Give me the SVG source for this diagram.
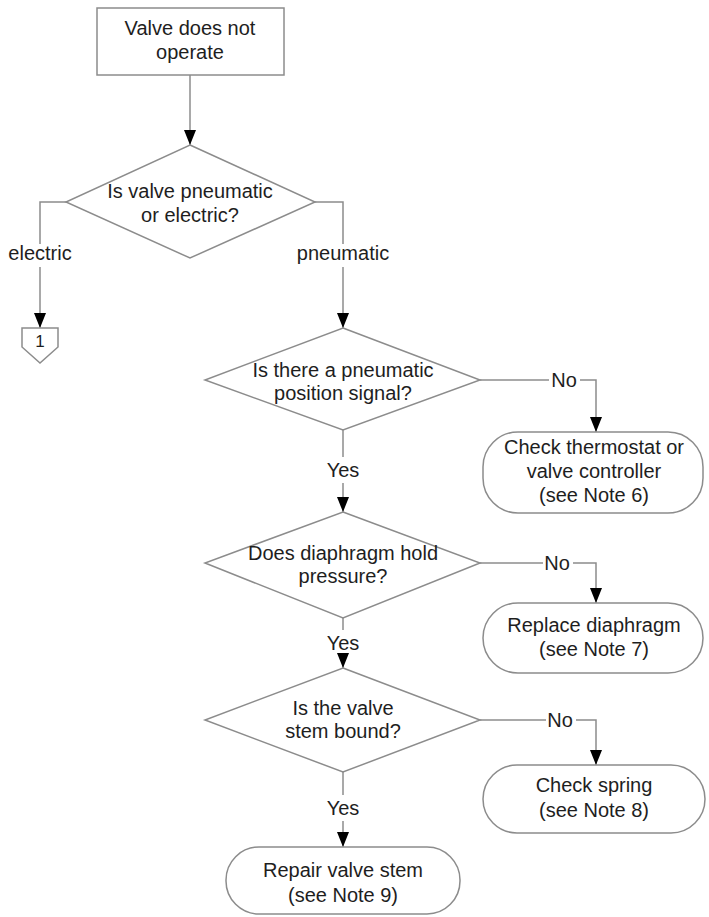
<svg xmlns="http://www.w3.org/2000/svg" width="709" height="917" viewBox="0 0 709 917">
<defs>
<style>
.shape{fill:#fff;stroke:#8c8c8c;stroke-width:1.5}
.line{fill:none;stroke:#8c8c8c;stroke-width:1.5}
text{font-family:"Liberation Sans",Arial,sans-serif;font-size:20px;fill:#1e1e1e;text-anchor:middle}
.small{font-size:17px}
</style>
<marker id="arrow" markerUnits="userSpaceOnUse" markerWidth="16" markerHeight="12" viewBox="0 0 16 12" refX="15" refY="6" orient="auto">
<path d="M0,0 L15,6 L0,12 Z" fill="#000"/>
</marker>
</defs>
<rect width="709" height="917" fill="#fff"/>
<g id="connectors">
<path class="line" d="M190,75 V145" marker-end="url(#arrow)"/>
<path class="line" d="M66,202 H40 V244"/>
<path class="line" d="M40,267 V328" marker-end="url(#arrow)"/>
<path class="line" d="M315,202 H343 V244"/>
<path class="line" d="M343,267 V328" marker-end="url(#arrow)"/>
<path class="line" d="M480,380 H549"/>
<path class="line" d="M580,380 H596 V432" marker-end="url(#arrow)"/>
<path class="line" d="M343,430 V457"/>
<path class="line" d="M343,483 V512" marker-end="url(#arrow)"/>
<path class="line" d="M480,563 H543"/>
<path class="line" d="M573,563 H596 V603" marker-end="url(#arrow)"/>
<path class="line" d="M343,618 V630"/>
<path class="line" d="M343,655 V668" marker-end="url(#arrow)"/>
<path class="line" d="M480,720 H546"/>
<path class="line" d="M576,720 H596 V765" marker-end="url(#arrow)"/>
<path class="line" d="M343,772 V795"/>
<path class="line" d="M343,821 V847" marker-end="url(#arrow)"/>
<text x="40" y="260">electric</text>
<text x="343" y="260">pneumatic</text>
<text x="564" y="387">No</text>
<text x="343" y="477">Yes</text>
<text x="557" y="570">No</text>
<text x="343" y="650">Yes</text>
<text x="560" y="727">No</text>
<text x="343" y="815">Yes</text>
</g>
<g id="start">
<rect class="shape" x="97" y="8" width="187" height="67"/>
<text x="190" y="35">Valve does not</text>
<text x="190" y="59">operate</text>
</g>
<g id="d1">
<polygon class="shape" points="190,145 315,202 190,258 66,202"/>
<text x="190" y="198">Is valve pneumatic</text>
<text x="190" y="222">or electric?</text>
</g>
<g id="conn1">
<polygon class="shape" points="22,328 58,328 58,347 40,363 22,347"/>
<text class="small" x="40" y="347">1</text>
</g>
<g id="d2">
<polygon class="shape" points="343,328 480,380 343,430 205,380"/>
<text x="343" y="377">Is there a pneumatic</text>
<text x="343" y="400">position signal?</text>
</g>
<g id="b1">
<rect class="shape" x="483" y="432" width="220" height="81" rx="35" ry="35"/>
<text x="594" y="454">Check thermostat or</text>
<text x="594" y="478">valve controller</text>
<text x="594" y="502">(see Note 6)</text>
</g>
<g id="d3">
<polygon class="shape" points="343,512 480,563 343,618 205,563"/>
<text x="343" y="560">Does diaphragm hold</text>
<text x="343" y="583">pressure?</text>
</g>
<g id="b2">
<rect class="shape" x="483" y="603" width="220" height="70" rx="35" ry="35"/>
<text x="594" y="632">Replace diaphragm</text>
<text x="594" y="656">(see Note 7)</text>
</g>
<g id="d4">
<polygon class="shape" points="343,668 480,720 343,772 205,720"/>
<text x="343" y="715">Is the valve</text>
<text x="343" y="738">stem bound?</text>
</g>
<g id="b3">
<rect class="shape" x="483" y="765" width="222" height="68" rx="34" ry="34"/>
<text x="594" y="792">Check spring</text>
<text x="594" y="817">(see Note 8)</text>
</g>
<g id="b4">
<rect class="shape" x="226" y="847" width="234" height="67" rx="33" ry="33"/>
<text x="343" y="877">Repair valve stem</text>
<text x="343" y="902">(see Note 9)</text>
</g>
</svg>
